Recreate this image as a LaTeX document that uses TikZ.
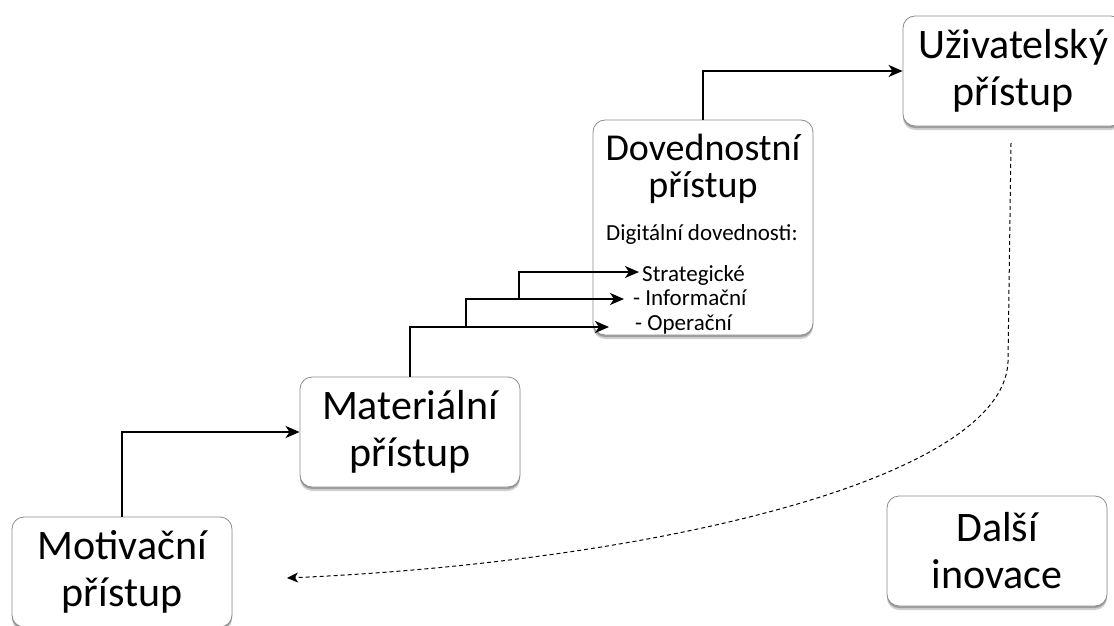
\documentclass[tikz,border=0pt]{standalone}
\usepackage{fontspec}
\setmainfont{Carlito}
\usetikzlibrary{arrows.meta,shadows}
\tikzset{
  box/.style={draw=black!45, line width=0.8pt, rounded corners=12pt, fill=white,
    minimum width=220pt, minimum height=110pt, align=center, inner sep=0pt,
    font=\fontsize{42}{47}\selectfont,
    drop shadow={shadow xshift=0pt, shadow yshift=-4pt, opacity=0.18, fill=black},
    drop shadow={shadow xshift=0pt, shadow yshift=-2pt, opacity=0.25, fill=black}},
  arr/.style={line width=2.2pt, -{Stealth[length=14pt,width=12pt,inset=4pt]}},
  darr/.style={line width=1pt, dash pattern=on 4pt off 3pt, -{Stealth[length=11pt,width=10pt,inset=3pt]}},
  small/.style={font=\fontsize{23}{25}\selectfont, inner sep=0pt},
  mid/.style={font=\fontsize{38}{38}\selectfont, inner sep=0pt}
}
\begin{document}
\begin{tikzpicture}[x=1pt,y=-1pt]
\useasboundingbox (0,0) rectangle (1114,626);
% boxes
\node[box] (mot) at (122,572) {Motivační\\přístup};
\node[box] (mat) at (410,432) {Materiální\\přístup};
\node[box, minimum height=215pt] (dov) at (703,227.5) {};
\node[box] (uzi) at (1013,71) {Uživatelský\\přístup};
\node[box] (dal) at (997,551) {Další\\inovace};
% texts in the skill box
\node[mid, anchor=base] (dovA) at (703,160) {Dovednostní};
\node[mid, anchor=base] (dovB) at (703,197) {přístup};
\node[small, anchor=base] (dig) at (702,240) {Digitální dovednosti:};
\node[small, anchor=base west] (str) at (642,281) {Strategické};
\node[small, anchor=base west] (inf) at (633,305) {- Informační};
\node[small, anchor=base west] (ope) at (635,330) {- Operační};
% arrow end points and branch points
\coordinate (tipS) at (639,272);
\coordinate (tipI) at (624,299);
\coordinate (tipO) at (609,327);
\coordinate (brO) at (466,327);
\coordinate (brI) at (519,299);
% connectors
\draw[arr] (mot.north) |- (mat.west);
\draw[arr] (mat.north) |- (tipO);
\draw[arr] (brO) |- (tipI);
\draw[arr] (brI) |- (tipS);
\draw[arr] (dov.north) |- (uzi.west);
% dashed return
\coordinate (dS) at (1011,143);
\coordinate (dM) at (1008,362);
\coordinate (dE) at (287,578);
\draw[darr] (dS) -- (dM) .. controls (1003,480) and (650,562) .. (dE);
\end{tikzpicture}
\end{document}
